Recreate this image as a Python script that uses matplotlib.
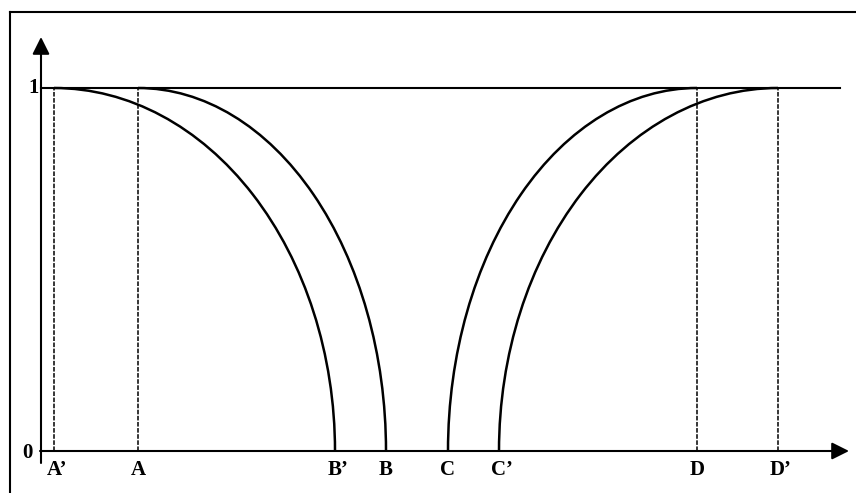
import matplotlib.pyplot as plt
from matplotlib.patches import Arc
from matplotlib.lines import Line2D

# breakpoints on the x axis (distance from the y axis, pixel-like units)
labels = ['A’', 'A', 'B’', 'B', 'C', 'C’', 'D', 'D’']
xpos = [13, 97, 294, 345, 407, 458, 656, 737]
pos = dict(zip(labels, xpos))

# left falling curves: (start at 1, end at 0), right rising curves: (start at 0, end at 1)
falling = [('A’', 'B’'), ('A', 'B')]
rising = [('C', 'D'), ('C’', 'D’')]
dashed = ['A’', 'A', 'D', 'D’']

fig = plt.figure(figsize=(8.56, 4.93), dpi=100)
ax = fig.add_axes([0, 0, 1, 1])
ax.set_xlim(-41, 815)
ax.set_ylim(-42 / 363, 1 + 88 / 363)
ax.axis('off')

# outer frame (top and left edges only visible)
fig.add_artist(Line2D([10 / 856, 1], [1 - 12 / 493, 1 - 12 / 493], color='k', lw=1.5))
fig.add_artist(Line2D([10 / 856, 10 / 856], [0, 1 - 12 / 493], color='k', lw=1.5))

# axes with arrows
ax.annotate('', xy=(0, 1 + 51 / 363), xytext=(0, -12 / 363),
            arrowprops=dict(arrowstyle='-|>', mutation_scale=26, lw=1.5, color='k',
                            shrinkA=0, shrinkB=0))
ax.annotate('', xy=(808, 0), xytext=(-1, 0),
            arrowprops=dict(arrowstyle='-|>', mutation_scale=26, lw=1.5, color='k',
                            shrinkA=0, shrinkB=0))

# level 1 line
ax.plot([0, 799], [1, 1], color='k', lw=1.5)

# dashed verticals
for name in dashed:
    ax.plot([pos[name], pos[name]], [0, 1], color='k', lw=1.1, ls=(0, (3, 1)))

# elliptic membership edges
for top, bot in falling:
    w = 2 * (pos[bot] - pos[top])
    ax.add_patch(Arc((pos[top], 0), w, 2, theta1=0, theta2=90, color='k', lw=1.8))
for bot, top in rising:
    w = 2 * (pos[top] - pos[bot])
    ax.add_patch(Arc((pos[top], 0), w, 2, theta1=90, theta2=180, color='k', lw=1.8))

# text
font = dict(family='Liberation Serif', fontsize=15, fontweight='bold')
for name in labels:
    ax.text(pos[name] + (3 if '’' in name else 0), -9 / 363, name, ha='center', va='top', **font)
ax.text(-2, 1, '1', ha='right', va='center', **font)
ax.text(-8, -2 / 363, '0', ha='right', va='center', **font)

fig.savefig('out.png', dpi=100)
